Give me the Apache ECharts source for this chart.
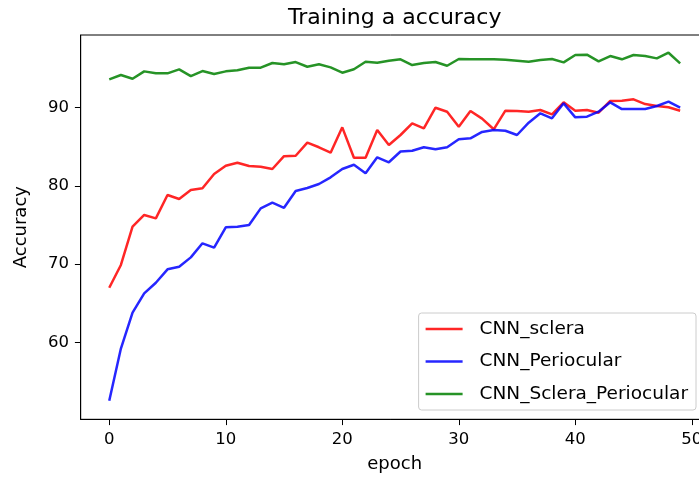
<!DOCTYPE html>
<html>
<head>
<meta charset="utf-8">
<script src="https://cdn.jsdelivr.net/npm/echarts@6/dist/echarts.min.js"></script>
<style>
  html, body { margin: 0; padding: 0; background: #fff; }
  #main { width: 699px; height: 478px; }
</style>
</head>
<body>
<div id="main"></div>
<script>
// epochs on the x axis
var epochs = [0, 1, 2, 3, 4, 5, 6, 7, 8, 9, 10, 11, 12, 13, 14, 15, 16, 17, 18, 19,
  20, 21, 22, 23, 24, 25, 26, 27, 28, 29, 30, 31, 32, 33, 34, 35, 36, 37, 38, 39,
  40, 41, 42, 43, 44, 45, 46, 47, 48, 49]

// CNN_sclera (red)
var sclera = [66.98, 69.89, 74.78, 76.28, 75.85, 78.84, 78.33, 79.48, 79.69, 81.52,
  82.58, 82.97, 82.54, 82.46, 82.16, 83.8, 83.86, 85.53, 84.94, 84.25,
  87.49, 83.61, 83.61, 87.15, 85.23, 86.51, 88.0, 87.36, 90.0, 89.49,
  87.57, 89.58, 88.6, 87.24, 89.62, 89.58, 89.49, 89.71, 89.15, 90.69,
  89.62, 89.71, 89.36, 90.86, 90.9, 91.07, 90.47, 90.22, 90.05, 89.62]

// CNN_Periocular (blue)
var periocular = [52.53, 59.2, 63.8, 66.26, 67.62, 69.33, 69.67, 70.86, 72.66, 72.1,
  74.7, 74.78, 75.0, 77.13, 77.85, 77.2, 79.35, 79.73, 80.24, 81.1,
  82.16, 82.71, 81.61, 83.66, 83.02, 84.4, 84.5, 84.94, 84.68, 84.94,
  85.96, 86.08, 86.9, 87.15, 87.06, 86.51, 88.08, 89.28, 88.64, 90.56,
  88.77, 88.85, 89.49, 90.69, 89.83, 89.83, 89.83, 90.22, 90.77, 90.0]

// CNN_Sclera_Periocular (green)
var scleraPeri = [93.63, 94.18, 93.71, 94.65, 94.4, 94.4, 94.91, 94.05, 94.69, 94.31,
  94.65, 94.78, 95.12, 95.12, 95.72, 95.55, 95.84, 95.24, 95.55, 95.16,
  94.48, 94.91, 95.88, 95.75, 96.01, 96.19, 95.46, 95.72, 95.84, 95.37,
  96.23, 96.19, 96.19, 96.19, 96.14, 96.01, 95.88, 96.1, 96.23, 95.8,
  96.74, 96.78, 95.93, 96.61, 96.19, 96.74, 96.61, 96.31, 97.03, 95.68]

var xTicks = [0, 10, 20, 30, 40, 50]
var yTicks = [60, 70, 80, 90]

var font = 'DejaVu Sans'

function pairs (ys) {
  return ys.map(function (v, i) { return [epochs[i], v] })
}

function line (name, color, ys) {
  return {
    name: name,
    type: 'line',
    data: pairs(ys),
    symbol: 'none',
    lineStyle: { color: color, width: 2.5, opacity: 0.85 },
    itemStyle: { color: color, opacity: 0.85 },
    emphasis: { disabled: true },
    animation: false
  }
}

var myChart = echarts.init(document.getElementById('main'))
myChart.setOption({
  backgroundColor: '#fff',
  animation: false,
  title: {
    text: 'Training a accuracy',
    left: 394.7,
    textAlign: 'center',
    top: 7,
    padding: 0,
    textStyle: { fontFamily: font, fontSize: 22, fontWeight: 'normal', color: '#000' }
  },
  legend: {
    orient: 'vertical',
    right: 3,
    bottom: 68,
    padding: [5, 8, 5, 7],
    itemGap: 10.5,
    itemWidth: 37,
    itemHeight: 2.5,
    icon: 'rect',
    backgroundColor: 'rgba(255,255,255,0.8)',
    borderColor: '#cccccc',
    borderWidth: 1,
    borderRadius: 3,
    textStyle: { fontFamily: font, fontSize: 18.5, color: '#000', padding: [0, 0, 0, 12], lineHeight: 22 },
    data: ['CNN_sclera', 'CNN_Periocular', 'CNN_Sclera_Periocular']
  },
  grid: {
    left: 80.7,
    right: -9.7,
    top: 35,
    bottom: 58.7,
    outerBoundsMode: 'none',
    show: true,
    borderColor: '#000',
    borderWidth: 1,
    backgroundColor: 'transparent'
  },
  xAxis: {
    type: 'value',
    min: -2.45,
    max: 51.45,
    name: 'epoch',
    nameLocation: 'middle',
    nameGap: 36.5,
    nameTextStyle: { fontFamily: font, fontSize: 18, color: '#000' },
    axisLine: { onZero: false, lineStyle: { color: '#000', width: 1 } },
    axisTick: { show: true, length: 5.8, customValues: xTicks, lineStyle: { color: '#000' } },
    axisLabel: { customValues: xTicks, margin: 11.6, fontFamily: font, fontSize: 16.5, color: '#000' },
    splitLine: { show: false }
  },
  yAxis: {
    type: 'value',
    min: 50.15,
    max: 99.3,
    name: 'Accuracy',
    nameLocation: 'middle',
    nameGap: 50,
    nameRotate: 90,
    nameTextStyle: { fontFamily: font, fontSize: 18, color: '#000' },
    axisLine: { show: true, onZero: false, lineStyle: { color: '#000', width: 1 } },
    axisTick: { show: true, length: 5.8, customValues: yTicks, lineStyle: { color: '#000' } },
    axisLabel: { customValues: yTicks, margin: 11.6, fontFamily: font, fontSize: 16.5, color: '#000' },
    splitLine: { show: false }
  },
  series: [
    line('CNN_sclera', '#ff0000', sclera),
    line('CNN_Periocular', '#0000ff', periocular),
    line('CNN_Sclera_Periocular', '#008000', scleraPeri)
  ]
})
</script>
</body>
</html>
